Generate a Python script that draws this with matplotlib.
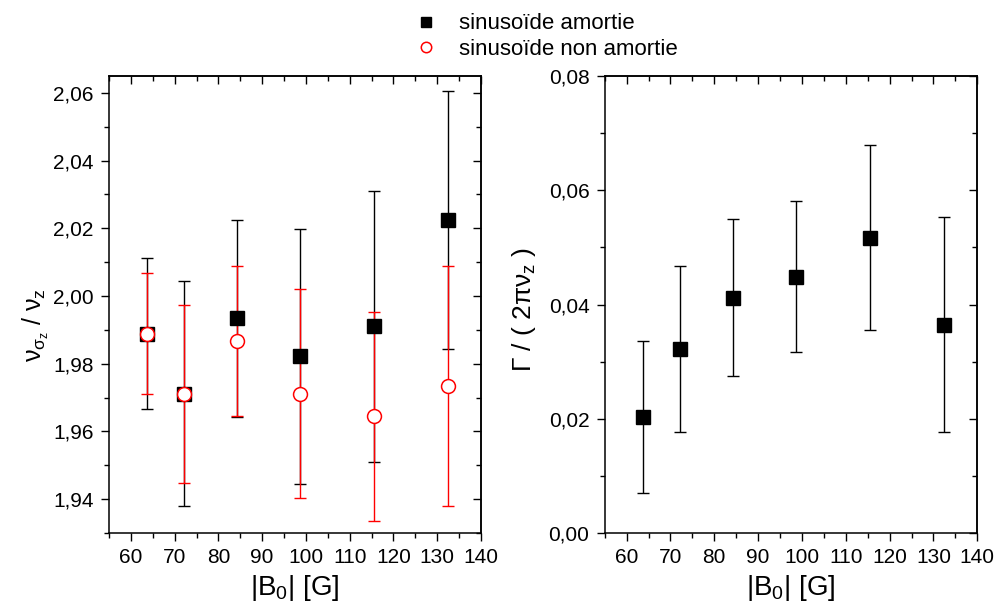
import matplotlib
matplotlib.use('Agg')
import matplotlib.pyplot as plt
from matplotlib.ticker import MultipleLocator, FuncFormatter

plt.rcParams['font.family'] = ['Liberation Sans', 'DejaVu Sans']
plt.rcParams['mathtext.fontset'] = 'custom'
plt.rcParams['mathtext.rm'] = 'Liberation Sans'
plt.rcParams['mathtext.it'] = 'Liberation Sans'
plt.rcParams['mathtext.bf'] = 'Liberation Sans:bold'

# data
b0 = [63.7, 72.1, 84.2, 98.7, 115.6, 132.5]

ratio_damped = [1.9889, 1.9712, 1.9934, 1.9822, 1.9911, 2.0225]
ratio_damped_err = [0.0223, 0.0331, 0.0290, 0.0376, 0.0400, 0.0381]
ratio_undamped = [1.9889, 1.9712, 1.9867, 1.9712, 1.9645, 1.9734]
ratio_undamped_err = [0.0179, 0.0263, 0.0222, 0.0309, 0.0309, 0.0354]

gamma_damped = [0.0203, 0.0322, 0.0412, 0.0449, 0.0517, 0.0365]
gamma_damped_err = [0.0133, 0.0145, 0.0137, 0.0133, 0.0162, 0.0189]

legend_labels = ['sinusoïde amortie', 'sinusoïde non amortie']

fig = plt.figure(figsize=(9.99, 6.13), dpi=100)
fig.patch.set_facecolor('white')

ax1 = fig.add_axes([0.1091, 0.1305, 0.3724, 0.7455])
ax2 = fig.add_axes([0.6053, 0.1305, 0.3730, 0.7455])

comma = FuncFormatter(lambda v, p: ('%.2f' % v).replace('.', ','))

def style_axis(ax):
    ax.set_xlim(55, 140)
    ax.xaxis.set_major_locator(MultipleLocator(10))
    ax.xaxis.set_minor_locator(MultipleLocator(5))
    ax.tick_params(which='both', direction='out', top=False, right=False,
                   labelsize=15, width=1, color='black', pad=5)
    ax.tick_params(which='major', length=6)
    ax.tick_params(which='minor', length=3.5)
    for sp in ax.spines.values():
        sp.set_linewidth(1.1)
    ax.set_xlabel('|B$_0$| [G]', fontsize=20, labelpad=4)

    # mirrored ticks pointing inward on top and right
    tx = ax.secondary_xaxis('top')
    tx.xaxis.set_major_locator(MultipleLocator(10))
    tx.xaxis.set_minor_locator(MultipleLocator(5))
    tx.tick_params(which='both', direction='in', labeltop=False, width=1)
    tx.tick_params(which='major', length=6)
    tx.tick_params(which='minor', length=3.5)
    tx.spines['top'].set_linewidth(1.1)

style_axis(ax1)
style_axis(ax2)

# left panel
ax1.errorbar(b0, ratio_damped, yerr=ratio_damped_err, fmt='none', ecolor='black',
             elinewidth=1, capsize=4.5, capthick=1, zorder=2)
ax1.errorbar(b0, ratio_undamped, yerr=ratio_undamped_err, fmt='none', ecolor='#ff0000',
             elinewidth=1, capsize=4.5, capthick=1, zorder=2.5)
sq, = ax1.plot(b0, ratio_damped, 's', color='black', markersize=9.5, zorder=3)
ci, = ax1.plot(b0, ratio_undamped, 'o', markerfacecolor='white', markeredgecolor='#ff0000',
               markeredgewidth=1.1, markersize=10, zorder=4)
ax1.set_ylim(1.93, 2.065)
ax1.yaxis.set_major_locator(MultipleLocator(0.02))
ax1.yaxis.set_minor_locator(MultipleLocator(0.01))
ax1.yaxis.set_major_formatter(comma)
ax1.set_ylabel(r'$\nu_{\sigma_z}$ / $\nu_z$', fontsize=18)
ax1.yaxis.set_label_coords(-0.155, 0.455)

# right panel
ax2.errorbar(b0, gamma_damped, yerr=gamma_damped_err, fmt='none', ecolor='black',
             elinewidth=1, capsize=4.5, capthick=1, zorder=2)
ax2.plot(b0, gamma_damped, 's', color='black', markersize=9.5, zorder=3)
ax2.set_ylim(0, 0.08)
ax2.yaxis.set_major_locator(MultipleLocator(0.02))
ax2.yaxis.set_minor_locator(MultipleLocator(0.01))
ax2.yaxis.set_major_formatter(comma)
ax2.set_ylabel(r'$\Gamma$ / ( 2$\pi\nu_z$ )', fontsize=19)
ax2.yaxis.set_label_coords(-0.18, 0.49)

for ax in (ax1, ax2):
    ty = ax.secondary_yaxis('right')
    ty.yaxis.set_major_locator(MultipleLocator(0.02))
    ty.yaxis.set_minor_locator(MultipleLocator(0.01))
    ty.tick_params(which='both', direction='in', labelright=False, width=1)
    ty.tick_params(which='major', length=6)
    ty.tick_params(which='minor', length=3.5)
    ty.spines['right'].set_linewidth(1.1)

fig.legend([sq, ci], legend_labels, loc='upper left', bbox_to_anchor=(0.402, 1.0),
           frameon=False, fontsize=16, markerscale=0.75, handlelength=1.0,
           handletextpad=1.0, labelspacing=0.2, borderaxespad=0.2)

fig.savefig('out.png', dpi=100, facecolor='white')
